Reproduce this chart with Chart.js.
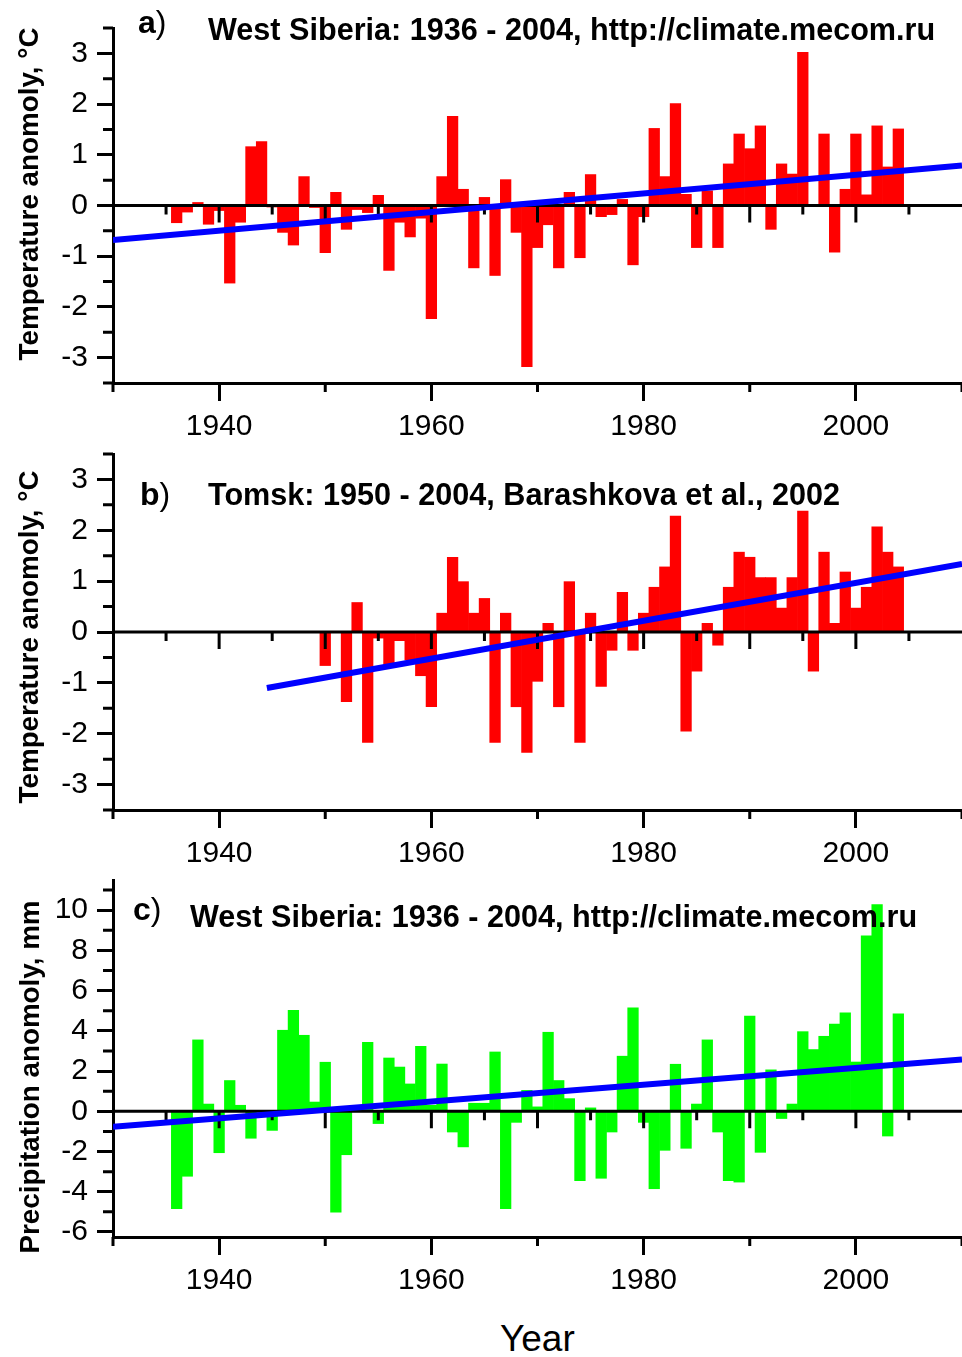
<!DOCTYPE html>
<html>
<head><meta charset="utf-8"><title>West Siberia anomalies</title>
<script src="https://cdn.jsdelivr.net/npm/chart.js"></script>
<style>
  body{margin:0;background:#fff;font-family:"Liberation Sans",Arial,sans-serif;}
  #page{position:relative;width:962px;height:1357px;overflow:hidden;background:#fff;}
  canvas{position:absolute;left:0;}
  .t{position:absolute;white-space:nowrap;line-height:1;color:#000;}
  .ttl{font-size:30.6px;font-weight:bold;}
  .pl{font-size:32px;}
  .yt{font-size:27.8px;font-weight:bold;transform:translate(-50%,-50%) rotate(-90deg);}
  .xt{font-size:37px;}
</style>
</head>
<body>
<div id="page">
  <canvas id="chartA" width="962" height="445" style="top:0px"></canvas>
  <canvas id="chartB" width="962" height="430" style="top:445px"></canvas>
  <canvas id="chartC" width="962" height="425" style="top:875px"></canvas>

  <div class="t pl" style="left:138px;top:6px"><b>a</b>)</div>
  <div class="t ttl" style="left:208px;top:14px">West Siberia: 1936 - 2004, http://climate.mecom.ru</div>
  <div class="t pl" style="left:140px;top:478px"><b>b</b>)</div>
  <div class="t ttl" style="left:208px;top:479px">Tomsk: 1950 - 2004, Barashkova et al., 2002</div>
  <div class="t pl" style="left:133px;top:893px"><b>c</b>)</div>
  <div class="t ttl" style="left:190px;top:901px">West Siberia: 1936 - 2004, http://climate.mecom.ru</div>

  <div class="t yt" style="left:29px;top:194px">Temperature anomoly, °C</div>
  <div class="t yt" style="left:29px;top:637px">Temperature anomoly, °C</div>
  <div class="t yt" style="left:30px;top:1077px">Precipitation anomoly, mm</div>
  <div class="t xt" style="left:500px;top:1320px">Year</div>
</div>
<script>
// years
const yearsWS = [1936,1937,1938,1939,1940,1941,1942,1943,1944,1945,1946,1947,1948,1949,1950,
  1951,1952,1953,1954,1955,1956,1957,1958,1959,1960,1961,1962,1963,1964,1965,1966,1967,1968,
  1969,1970,1971,1972,1973,1974,1975,1976,1977,1978,1979,1980,1981,1982,1983,1984,1985,1986,
  1987,1988,1989,1990,1991,1992,1993,1994,1995,1996,1997,1998,1999,2000,2001,2002,2003,2004];
const yearsTomsk = [1950,1951,1952,1953,1954,1955,1956,1957,1958,1959,1960,1961,1962,1963,
  1964,1965,1966,1967,1968,1969,1970,1971,1972,1973,1974,1975,1976,1977,1978,1979,1980,1981,
  1982,1983,1984,1985,1986,1987,1988,1989,1990,1991,1992,1993,1994,1995,1996,1997,1998,1999,
  2000,2001,2002,2003,2004];

// a) West Siberia temperature anomaly, C
const tempWS = [-0.34,-0.13,0.06,-0.37,-0.10,-1.53,-0.33,1.16,1.26,-0.03,
  -0.53,-0.78,0.57,-0.04,-0.93,0.26,-0.47,-0.08,-0.14,0.20,
  -1.28,-0.33,-0.62,-0.25,-2.23,0.57,1.76,0.32,-1.23,0.16,
  -1.38,0.51,-0.53,-3.18,-0.83,-0.38,-1.23,0.26,-1.03,0.61,
  -0.22,-0.18,0.12,-1.17,-0.22,1.52,0.57,2.01,0.22,-0.83,
  0.29,-0.83,0.82,1.41,1.12,1.57,-0.47,0.82,0.62,3.02,
  0.00,1.41,-0.92,0.32,1.41,0.21,1.57,0.76,1.51];
// b) Tomsk temperature anomaly, C
const tempTomsk = [-0.66,0.00,-1.37,0.58,-2.17,-0.12,-0.65,-0.17,-0.55,-0.86,
  -1.47,0.37,1.47,0.99,0.37,0.66,-2.17,0.37,-1.47,-2.37,
  -0.97,0.17,-1.47,0.99,-2.17,0.37,-1.07,-0.36,0.78,-0.36,
  0.37,0.88,1.28,2.28,-1.95,-0.77,0.17,-0.26,0.88,1.57,
  1.47,1.07,1.07,0.47,1.07,2.38,-0.77,1.57,0.17,1.18,
  0.47,0.88,2.07,1.57,1.28];
// c) West Siberia precipitation anomaly, mm
const precipWS = [-4.84,-3.23,3.55,0.36,-2.06,1.53,0.30,-1.34,0.00,-0.95,
  4.03,5.02,3.78,0.46,2.44,-5.02,-2.16,0.00,3.43,-0.61,
  2.65,2.20,1.36,3.23,0.30,2.35,-1.03,-1.77,0.40,0.40,
  2.95,-4.84,-0.55,1.04,0.22,3.93,1.53,0.63,-3.45,0.17,
  -3.33,-1.03,2.74,5.14,-0.55,-3.85,-1.94,2.34,-1.84,0.36,
  3.55,-1.03,-3.45,-3.52,4.74,-2.04,2.06,-0.36,0.36,3.96,
  3.07,3.73,4.34,4.89,2.45,8.72,10.28,-1.23,4.84];

// linear trends (end points)
const trendYearsA = [1930, 2010], trendA = [-0.68, 0.79];
const trendYearsB = [1944.5, 2010], trendB = [-1.10, 1.34];
const trendYearsC = [1930, 2010], trendC = [-0.77, 2.57];

// ticks
const zeroTicks = [1935,1940,1945,1950,1955,1960,1965,1970,1975,1980,1985,1990,1995,2000,2005];
const xMinorTicks = [1930,1950,1970,1990,2010];
const tempMinor = [-3.5,-2.5,-1.5,-0.5,0.5,1.5,2.5,3.5];
const precMinor = [-5,-3,-1,1,3,5,7,9,11];

const ink = '#000';
Chart.defaults.font.family = '"Liberation Sans", Arial, sans-serif';
Chart.defaults.font.size = 30;
Chart.defaults.color = ink;

// zero line with its ticks, and the short minor ticks on both axes
const extras = {
  id: 'extras',
  afterDatasetDraw(chart, args) {
    if (args.index !== 0) return;
    const {ctx, scales: {x, y}} = chart;
    const y0 = y.getPixelForValue(0);
    ctx.save();
    ctx.strokeStyle = ink; ctx.lineWidth = 3;
    ctx.beginPath();
    ctx.moveTo(x.left, y0); ctx.lineTo(x.right, y0);
    zeroTicks.forEach(v => {
      const px = x.getPixelForValue(v);
      ctx.moveTo(px, y0); ctx.lineTo(px, y0 + (v % 10 === 0 ? 17 : 9));
    });
    ctx.stroke();
    ctx.restore();
  },
  afterDraw(chart, args, opts) {
    const {ctx, scales: {x, y}} = chart;
    ctx.save();
    ctx.strokeStyle = ink; ctx.lineWidth = 3;
    ctx.beginPath();
    xMinorTicks.forEach(v => {
      const px = x.getPixelForValue(v);
      ctx.moveTo(px, x.top); ctx.lineTo(px, x.top + 9);
    });
    opts.yMinor.forEach(v => {
      const py = y.getPixelForValue(v);
      ctx.moveTo(y.right - 10, py); ctx.lineTo(y.right, py);
    });
    ctx.stroke();
    ctx.restore();
  }
};

function panel(id, years, values, color, tX, tY, p) {
  const isMajor = v => Math.abs(v / p.major - Math.round(v / p.major)) < 1e-9;
  new Chart(document.getElementById(id), {
    type: 'bar',
    data: {
      datasets: [
        { data: years.map((yr, i) => ({x: yr, y: values[i]})), backgroundColor: color,
          borderWidth: 0, barPercentage: 1, categoryPercentage: 1, order: 2 },
        { type: 'line', data: tX.map((v, i) => ({x: v, y: tY[i]})), borderColor: '#0000ff',
          borderWidth: 6, pointRadius: 0, fill: false, order: 1 }
      ]
    },
    options: {
      responsive: false, animation: false, devicePixelRatio: 1,
      layout: { padding: { top: p.padTop, left: 0, right: 0, bottom: 0 } },
      plugins: { legend: {display: false}, tooltip: {enabled: false}, extras: { yMinor: p.yMinor } },
      scales: {
        x: {
          type: 'linear', position: 'bottom', min: 1930, max: 2010, offset: false,
          grid: { offset: false, drawOnChartArea: false, tickLength: 18, tickWidth: 3,
                  tickColor: c => (c.tick && c.tick.value % 20 === 0) ? ink : 'rgba(0,0,0,0)' },
          border: { color: ink, width: 3 },
          ticks: { stepSize: 10, autoSkip: false, maxRotation: 0, padding: 8,
                   callback: v => v % 20 === 0 ? String(v) : '' },
          afterFit: s => { s.height = p.xH; s.paddingLeft = 0; s.paddingRight = 0; }
        },
        y: {
          type: 'linear', min: p.min, max: p.max,
          grid: { drawOnChartArea: false, tickLength: 16, tickWidth: 3,
                  tickColor: c => (c.tick && isMajor(c.tick.value)) ? ink : 'rgba(0,0,0,0)' },
          border: { color: ink, width: 3 },
          ticks: { stepSize: p.step, includeBounds: false, autoSkip: false, padding: 9,
                   callback: v => isMajor(v) ? String(v) : '' },
          afterFit: s => { s.width = 113; s.paddingTop = 0; s.paddingBottom = 0; }
        }
      }
    },
    plugins: [extras]
  });
}

panel('chartA', yearsWS, tempWS, '#ff0000', trendYearsA, trendA,
  { min: -3.5, max: 3.5, step: 0.5, major: 1, yMinor: tempMinor, padTop: 28, xH: 62 });
panel('chartB', yearsTomsk, tempTomsk, '#ff0000', trendYearsB, trendB,
  { min: -3.5, max: 3.5, step: 0.5, major: 1, yMinor: tempMinor, padTop: 9, xH: 65 });
panel('chartC', yearsWS, precipWS, '#00ff00', trendYearsC, trendC,
  { min: -6.25, max: 11.5, step: 1, major: 2, yMinor: precMinor, padTop: 5, xH: 63 });
</script>
</body>
</html>
